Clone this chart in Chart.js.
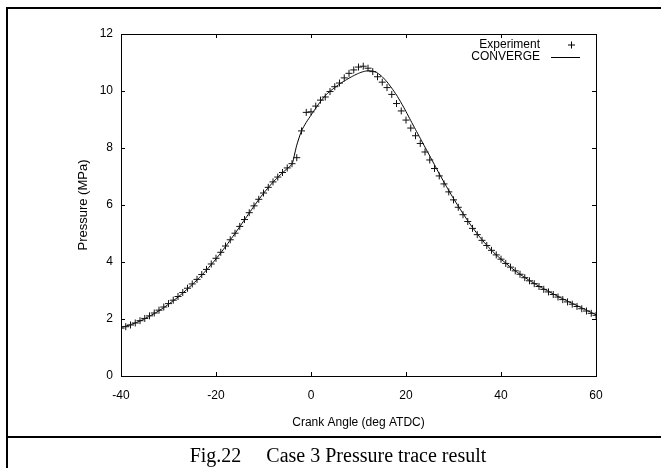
<!DOCTYPE html>
<html>
<head>
<meta charset="utf-8">
<script src="https://cdn.jsdelivr.net/npm/chart.js"></script>
<style>
  body { margin: 0; background: #fff; width: 661px; height: 468px; overflow: hidden; position: relative; }
  #wrap { position: absolute; left: 0; top: 0; width: 661px; height: 436px; }
  #frame { position: absolute; left: 6px; top: 7px; width: 680px; height: 490px; border: 2px solid #000; pointer-events: none; }
  #sep { position: absolute; left: 6px; top: 436px; width: 680px; height: 2px; background: #000; }
  #caption { position: absolute; left: 8px; width: 660px; top: 444px; text-align: center; white-space: pre;
             font-family: 'Liberation Serif', 'Times New Roman', serif; font-size: 20px; line-height: 22px; color: #000; }
</style>
</head>
<body>
<div id="wrap"><canvas id="grafik"></canvas></div>
<div id="frame"></div>
<div id="sep"></div>
<div id="caption">Fig.22     Case 3 Pressure trace result</div>
<script>
// data (crank angle in deg ATDC, pressure in MPa)
const expAngle = [
  -40, -39, -38, -37, -36, -35, -34, -33, -32, -31, -30, -29, -28, -27, -26, -25, -24, -23, -22, -21,
  -20, -19, -18, -17, -16, -15, -14, -13, -12, -11, -10, -9, -8, -7, -6, -5, -4, -3, -2, -1,
  0, 1, 2, 3, 4, 5, 6, 7, 8, 9, 10, 11, 12, 13, 14, 15, 16, 17, 18, 19,
  20, 21, 22, 23, 24, 25, 26, 27, 28, 29, 30, 31, 32, 33, 34, 35, 36, 37, 38, 39,
  40, 41, 42, 43, 44, 45, 46, 47, 48, 49, 50, 51, 52, 53, 54, 55, 56, 57, 58, 59, 60
];
const expPressure = [
  1.68, 1.73, 1.79, 1.86, 1.94, 2.02, 2.11, 2.21, 2.31, 2.42, 2.54, 2.66, 2.79, 2.93, 3.08, 3.23, 3.39, 3.56, 3.74, 3.93,
  4.13, 4.34, 4.56, 4.78, 5.01, 5.25, 5.49, 5.73, 5.97, 6.20, 6.42, 6.62, 6.81, 6.98, 7.14, 7.30, 7.45, 7.66, 8.60, 9.25,
  9.27, 9.47, 9.68, 9.79, 9.98, 10.15, 10.28, 10.46, 10.62, 10.74, 10.84, 10.87, 10.80, 10.68, 10.50, 10.31, 10.12, 9.88, 9.56, 9.30,
  8.98, 8.70, 8.43, 8.16, 7.86, 7.58, 7.28, 7.02, 6.74, 6.46, 6.18, 5.92, 5.66, 5.42, 5.18, 4.96, 4.76, 4.58, 4.41, 4.25,
  4.10, 3.95, 3.82, 3.69, 3.57, 3.45, 3.34, 3.24, 3.14, 3.04, 2.95, 2.86, 2.77, 2.68, 2.60, 2.52, 2.44, 2.36, 2.28, 2.20, 2.13
];

const cvAngle = [
  -40, -39, -38, -37, -36, -35, -34, -33, -32, -31, -30, -29, -28, -27, -26, -25, -24, -23, -22, -21,
  -20, -19, -18, -17, -16, -15, -14, -13, -12, -11, -10, -9, -8, -7, -6, -5, -4, -3.5, -3, -2, -1,
  0, 1, 2, 3, 4, 5, 6, 7, 8, 9, 10, 11, 12, 13, 14, 15, 16, 17, 18, 19,
  20, 21, 22, 23, 24, 25, 26, 27, 28, 29, 30, 31, 32, 33, 34, 35, 36, 37, 38, 39,
  40, 41, 42, 43, 44, 45, 46, 47, 48, 49, 50, 51, 52, 53, 54, 55, 56, 57, 58, 59, 60
];
const cvPressure = [
  1.71, 1.75, 1.80, 1.86, 1.93, 2.01, 2.10, 2.19, 2.29, 2.40, 2.52, 2.64, 2.77, 2.91, 3.06, 3.21, 3.37, 3.54, 3.72, 3.91,
  4.11, 4.32, 4.54, 4.77, 5.00, 5.24, 5.48, 5.72, 5.96, 6.19, 6.41, 6.61, 6.80, 6.97, 7.13, 7.28, 7.43, 7.75, 8.10, 8.60, 8.90,
  9.15, 9.40, 9.63, 9.84, 9.99, 10.12, 10.24, 10.35, 10.45, 10.54, 10.62, 10.68, 10.71, 10.70, 10.63, 10.50, 10.32, 10.10, 9.86, 9.58,
  9.28, 8.96, 8.65, 8.34, 8.03, 7.72, 7.41, 7.10, 6.80, 6.51, 6.23, 5.96, 5.70, 5.45, 5.21, 4.99, 4.78, 4.59, 4.41, 4.25,
  4.10, 3.96, 3.82, 3.69, 3.57, 3.46, 3.35, 3.25, 3.15, 3.06, 2.97, 2.88, 2.79, 2.71, 2.63, 2.55, 2.47, 2.39, 2.31, 2.23, 2.15
];

const seriesNames = ['Experiment', 'CONVERGE'];
const xMin = -40, xMax = 60, xStep = 20;
const yMin = 0, yMax = 12, yStep = 2;

const fontNarrow = "'Liberation Sans Narrow', 'Liberation Sans', Arial, sans-serif";
const fontBiasa = "'Liberation Sans', Arial, sans-serif";
Chart.defaults.font.family = fontNarrow;
Chart.defaults.font.size = 12;
Chart.defaults.color = '#000';

function pasangkan(xs, ys) {
  return xs.map((v, i) => ({ x: v, y: ys[i] }));
}

// gnuplot style frame with inward ticks on all four sides, plus the key
const bingkaiGnuplot = {
  id: 'bingkaiGnuplot',
  afterDraw(chart) {
    const { ctx, chartArea: a, scales: { x, y } } = chart;
    ctx.save();
    ctx.strokeStyle = '#000';
    ctx.lineWidth = 1;
    ctx.strokeRect(Math.round(a.left) + 0.5, Math.round(a.top) + 0.5,
                   Math.round(a.right - a.left), Math.round(a.bottom - a.top));
    ctx.beginPath();
    x.ticks.forEach(t => {
      const px = Math.round(x.getPixelForValue(t.value)) + 0.5;
      ctx.moveTo(px, a.bottom); ctx.lineTo(px, a.bottom - 4);
      ctx.moveTo(px, a.top); ctx.lineTo(px, a.top + 4);
    });
    y.ticks.forEach(t => {
      const py = Math.round(y.getPixelForValue(t.value)) + 0.5;
      ctx.moveTo(a.left, py); ctx.lineTo(a.left + 4, py);
      ctx.moveTo(a.right, py); ctx.lineTo(a.right - 4, py);
    });
    ctx.stroke();

    // key (top right, inside the plot)
    ctx.font = '12px ' + fontNarrow;
    ctx.fillStyle = '#000';
    ctx.textAlign = 'right';
    ctx.textBaseline = 'middle';
    const kx = a.right - 56;
    const ky1 = a.top + 11, ky2 = a.top + 23;
    ctx.fillText(seriesNames[0], kx, ky1);
    ctx.fillText(seriesNames[1], kx, ky2);
    ctx.beginPath();
    ctx.moveTo(a.right - 28, ky1); ctx.lineTo(a.right - 28 + 7, ky1);
    ctx.moveTo(a.right - 24.5, ky1 - 3.5); ctx.lineTo(a.right - 24.5, ky1 + 3.5);
    ctx.moveTo(a.right - 45, ky2 + 0.5); ctx.lineTo(a.right - 16, ky2 + 0.5);
    ctx.stroke();
    ctx.restore();
  }
};

const grafik = new Chart(document.getElementById('grafik'), {
  type: 'line',
  data: {
    datasets: [{
      label: seriesNames[0],
      data: pasangkan(expAngle, expPressure),
      showLine: false,
      pointStyle: 'cross',
      pointRadius: 3.5,
      pointBorderWidth: 1,
      pointBorderColor: '#111',
      borderColor: '#111'
    }, {
      label: seriesNames[1],
      data: pasangkan(cvAngle, cvPressure),
      borderColor: '#000',
      borderWidth: 1,
      pointRadius: 0,
      tension: 0.2,
      fill: false
    }]
  },
  options: {
    responsive: true,
    maintainAspectRatio: false,
    animation: false,
    layout: { padding: { left: 0, right: 65, top: 34, bottom: 0 } },
    plugins: { legend: { display: false }, tooltip: { enabled: false } },
    scales: {
      x: {
        type: 'linear',
        min: xMin, max: xMax,
        ticks: { stepSize: xStep, padding: 12 },
        grid: { display: false, drawTicks: false },
        border: { display: false },
        title: { display: true, text: 'Crank Angle (deg ATDC)', font: { family: fontBiasa, size: 12 },
                 padding: { top: 0, bottom: 6 } },
        afterFit(scale) { scale.height = 60; }
      },
      y: {
        type: 'linear',
        min: yMin, max: yMax,
        ticks: { stepSize: yStep, padding: 8 },
        grid: { display: false, drawTicks: false },
        border: { display: false },
        title: { display: true, text: 'Pressure (MPa)', font: { family: fontBiasa, size: 13 },
                 padding: { top: 76, bottom: 0 } },
        afterFit(scale) { scale.width = 121; }
      }
    }
  },
  plugins: [bingkaiGnuplot]
});
</script>
</body>
</html>
